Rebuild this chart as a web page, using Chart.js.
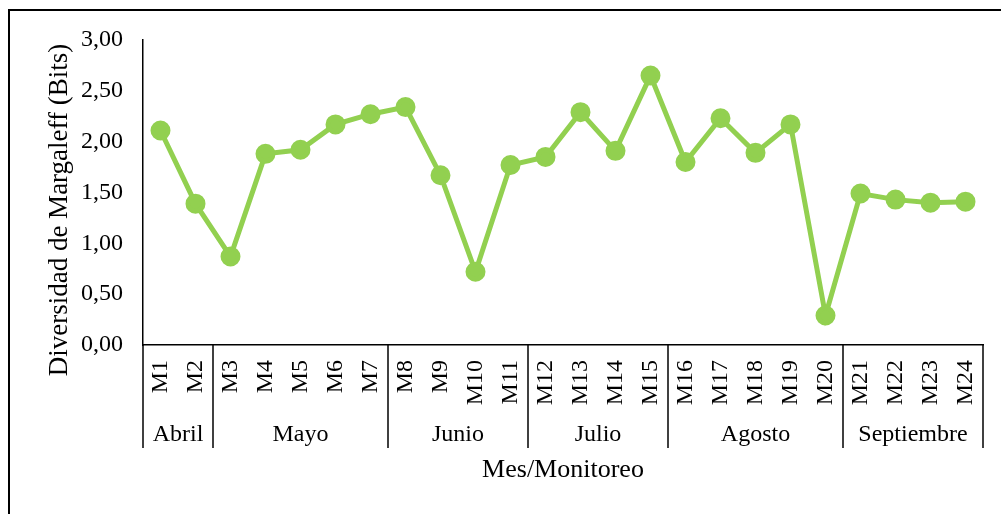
<!DOCTYPE html>
<html>
<head>
<meta charset="utf-8">
<script src="https://cdn.jsdelivr.net/npm/chart.js@4"></script>
<style>
  body { margin: 0; background: #fff; }
  #wrap { width: 1001px; height: 514px; }
</style>
</head>
<body>
<div id="wrap"><canvas id="myChart" width="1001" height="514"></canvas></div>
<script>
// monitoring campaigns
const categories = ['M1', 'M2', 'M3', 'M4', 'M5', 'M6', 'M7', 'M8', 'M9', 'M10', 'M11', 'M12',
    'M13', 'M14', 'M15', 'M16', 'M17', 'M18', 'M19', 'M20', 'M21', 'M22', 'M23', 'M24'];

// Margalef diversity per campaign
const values = [2.11, 1.39, 0.87, 1.88, 1.92, 2.17, 2.27, 2.34, 1.67, 0.72, 1.77, 1.85,
    2.29, 1.91, 2.65, 1.80, 2.23, 1.89, 2.17, 0.29, 1.49, 1.43, 1.40, 1.41];

// months and how many campaigns fall in each
const months = ['Abril', 'Mayo', 'Junio', 'Julio', 'Agosto', 'Septiembre'];
const monthCounts = [2, 5, 4, 4, 5, 4];

const yMin = 0;
const yMax = 3;
const yStep = 0.5;

const serif = 'Liberation Serif, Times New Roman, serif';

// frame, y title and month groups under the x axis
const decorations = {
    id: 'decorations',
    beforeDraw(chart) {
        const c = chart.ctx;
        c.save();
        c.strokeStyle = '#000';
        c.lineWidth = 2;
        c.strokeRect(9, 10, 1200, 1000);
        c.restore();
    },
    afterDraw(chart) {
        const c = chart.ctx;
        const x = chart.scales.x;
        const area = chart.chartArea;
        const half = (x.getPixelForValue(1) - x.getPixelForValue(0)) / 2;

        c.save();
        c.strokeStyle = '#000';
        c.lineWidth = 1.5;
        c.fillStyle = '#000';
        c.font = '24px ' + serif;
        c.textAlign = 'center';
        c.textBaseline = 'middle';

        let start = 0;
        const bottom = area.bottom + 103;
        const edge = x.getPixelForValue(0) - half;
        c.beginPath();
        c.moveTo(edge, area.bottom);
        c.lineTo(edge, bottom);
        c.stroke();
        months.forEach((m, i) => {
            const end = start + monthCounts[i] - 1;
            const left = x.getPixelForValue(start) - half;
            const right = x.getPixelForValue(end) + half;
            c.beginPath();
            c.moveTo(right, area.bottom);
            c.lineTo(right, bottom);
            c.stroke();
            c.fillText(m, (left + right) / 2, area.bottom + 90);
            start = end + 1;
        });

        // y axis title
        c.translate(60, 210);
        c.rotate(-Math.PI / 2);
        c.font = '27px ' + serif;
        c.fillText('Diversidad de Margaleff (Bits)', 0, 0);
        c.restore();
    }
};

const ctx = document.getElementById('myChart').getContext('2d');

const myChart = new Chart(ctx, {
    type: 'line',
    data: {
        labels: categories,
        datasets: [{
            data: values,
            borderColor: '#92D050',
            backgroundColor: '#92D050',
            borderWidth: 5,
            pointRadius: 7.5,
            pointHoverRadius: 7.5,
            tension: 0,
        }],
    },
    options: {
        responsive: false,
        animation: false,
        layout: { padding: { top: 40, right: 18, left: 0, bottom: 0 } },
        plugins: {
            legend: { display: false },
            tooltip: { enabled: false },
        },
        scales: {
            x: {
                offset: true,
                grid: { display: false, drawTicks: false },
                border: { display: true, color: '#000', width: 1.5 },
                ticks: {
                    color: '#000',
                    font: { family: serif, size: 24 },
                    minRotation: 90,
                    maxRotation: 90,
                    autoSkip: false,
                    padding: 15,
                },
                title: {
                    display: true,
                    text: 'Mes/Monitoreo',
                    color: '#000',
                    font: { family: serif, size: 26 },
                    padding: { top: 0, bottom: 28 },
                },
                afterFit(scale) {
                    scale.height = 169;
                    scale.paddingLeft = 0;
                    scale.paddingRight = 0;
                },
            },
            y: {
                min: yMin,
                max: yMax,
                grid: { display: false, drawTicks: false },
                border: { display: true, color: '#000', width: 1.5 },
                ticks: {
                    stepSize: yStep,
                    color: '#000',
                    font: { family: serif, size: 24 },
                    padding: 20,
                    callback: v => v.toFixed(2).replace('.', ','),
                },
                afterFit(scale) { scale.width = 143; },
            },
        },
    },
    plugins: [decorations],
});
</script>
</body>
</html>
